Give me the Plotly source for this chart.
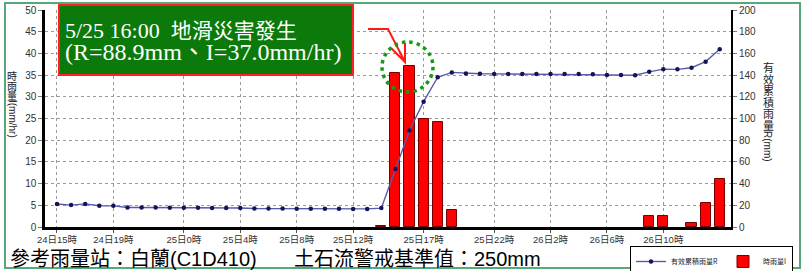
import plotly.graph_objects as go

# ---------------- data ----------------
hours = list(range(48))  # 24日15時 ... 26日14時 (hourly)
tick_idx = [0, 4, 9, 13, 17, 21, 26, 31, 35, 39, 43]
tick_text = ["24日15時", "24日19時", "25日0時", "25日4時", "25日8時", "25日12時",
             "25日17時", "25日22時", "26日2時", "26日6時", "26日10時"]

rain_I = [0, 0, 0, 0, 0, 0, 0, 0, 0, 0, 0, 0, 0, 0, 0, 0, 0, 0, 0, 0, 0, 0, 0,
          0.3, 35.5, 37.0, 25.0, 24.3, 4.0,
          0, 0, 0, 0, 0, 0, 0, 0, 0, 0, 0, 0, 0,
          2.5, 2.5, 0, 1.0, 5.6, 11.0]

cum_R = [21.2, 20.2, 21.3, 19.6, 19.5, 18.0, 18.0, 18.0, 17.8, 17.8, 17.7, 17.6,
         17.6, 17.5, 17.1, 17.0, 17.0, 16.9, 16.9, 16.8, 16.8, 16.7, 16.7, 17.4,
         53.5, 88.9, 115.5, 138.0, 142.5, 141.5, 141.2, 141.1, 141.0, 141.0, 141.0,
         141.0, 141.0, 140.9, 140.8, 140.2, 140.0, 139.9, 143.0, 145.5, 145.3,
         146.8, 152.4, 163.8]

name_R = "有效累積雨量R"
name_I = "時雨量I"
y1_ticks = [0, 5, 10, 15, 20, 25, 30, 35, 40, 45, 50]
y2_ticks = [0, 20, 40, 60, 80, 100, 120, 140, 160, 180, 200]

# ---------------- layout geometry (pixels) ----------------
W, H = 809, 271
L, R, T, B = 45, 731, 10, 227
PW, PH = R - L, B - T


def px(x):
    return (x - L) / PW


def py(y):
    return (B - y) / PH


CJK = "Noto Sans CJK TC"
SANS = "Liberation Sans, Arial, " + CJK
SERIF = "Liberation Serif, Times New Roman, " + CJK

fig = go.Figure()

fig.add_trace(go.Bar(
    x=hours, y=[v if v > 0 else None for v in rain_I], name=name_I, yaxis="y", width=0.72,
    marker=dict(color="#ff0000", line=dict(color="#7a0000", width=1)),
    legendrank=2,
))
fig.add_trace(go.Scatter(
    x=hours, y=cum_R, name=name_R, yaxis="y2", mode="lines+markers",
    line=dict(color="#5a5aa8", width=1.4),
    marker=dict(color="#14145a", size=4.5),
    legendrank=1,
))

grid_c = "#9a9a9a"
fig.update_layout(
    width=W, height=H,
    margin=dict(l=L, r=W - R, t=T, b=H - B, autoexpand=False),
    paper_bgcolor="white", plot_bgcolor="white",
    bargap=0, showlegend=True,
    xaxis=dict(
        range=[-0.85, 47.8], tickmode="array", tickvals=tick_idx, ticktext=tick_text,
        showgrid=True, gridcolor=grid_c, griddash="3px,3px", gridwidth=1,
        showline=True, linecolor="black", linewidth=2.5,
        ticks="outside", ticklen=3, tickcolor="#555", ticklabelstandoff=-1,
        tickfont=dict(family=SANS, size=9.5, color="#333"), zeroline=False,
    ),
    yaxis=dict(
        range=[0, 50], tickmode="array", tickvals=y1_ticks,
        showgrid=True, gridcolor=grid_c, griddash="3px,3px", gridwidth=1,
        showline=True, linecolor="black", linewidth=2.5,
        ticks="outside", ticklen=4, tickcolor="#777",
        tickfont=dict(family=SANS, size=10, color="#333"), zeroline=False,
    ),
    yaxis2=dict(
        range=[0, 200], tickmode="array", tickvals=y2_ticks, overlaying="y", side="right",
        showgrid=False, showline=True, linecolor="black", linewidth=2,
        ticks="outside", ticklen=4, tickcolor="#777",
        tickfont=dict(family=SANS, size=10, color="#333"), zeroline=False,
    ),
    legend=dict(
        orientation="h", x=px(630), y=py(246), xanchor="left", yanchor="top",
        bgcolor="white", bordercolor="black", borderwidth=1,
        font=dict(family=CJK, size=7, color="#222"), itemwidth=30,
        tracegroupgap=0, itemclick=False,
    ),
)

shapes = []
# outer green frame
shapes.append(dict(type="rect", xref="paper", yref="paper",
                   x0=px(5), x1=px(800), y0=py(3), y1=py(268),
                   line=dict(color="#55a878", width=2), fillcolor="rgba(0,0,0,0)", layer="above"))
# title box
shapes.append(dict(type="rect", xref="paper", yref="paper",
                   x0=px(59), x1=px(353), y0=py(5), y1=py(75),
                   line=dict(color="#ff2020", width=2), fillcolor="#0b7a0b", layer="above"))
# red arrow
pts = [(368, 29), (388, 29), (405, 62)]
path = "M" + " L".join(f"{px(a):.5f},{py(b):.5f}" for a, b in pts)
path += f" M{px(391):.5f},{py(48):.5f} L{px(405):.5f},{py(62):.5f} L{px(405):.5f},{py(43):.5f}"
shapes.append(dict(type="path", xref="paper", yref="paper", path=path,
                   line=dict(color="#ff1a1a", width=2), layer="above"))
# dotted green circle
shapes.append(dict(type="circle", xref="paper", yref="paper",
                   x0=px(382), x1=px(433), y0=py(42), y1=py(92),
                   line=dict(color="#169a16", width=3.5, dash="3.5px,4px"), layer="above"))
fig.update_layout(shapes=shapes)

ann = []
ann.append(dict(xref="paper", yref="paper", x=px(63), y=py(30), xanchor="left", yanchor="middle",
                text="5/25 16:00&nbsp;&nbsp;<span style='font-size:21px'>地滑災害發生</span>",
                showarrow=False, font=dict(family=SERIF, size=22, color="white")))
ann.append(dict(xref="paper", yref="paper", x=px(63), y=py(52), xanchor="left", yanchor="middle",
                text="(R=88.9mm、I=37.0mm/hr)", showarrow=False,
                font=dict(family=SERIF, size=24, color="white")))
# bottom info texts
ann.append(dict(xref="paper", yref="paper", x=px(8), y=py(257), xanchor="left", yanchor="middle",
                text="參考雨量站：白蘭<span style='font-family:Liberation Sans'>(C1D410)</span>",
                showarrow=False, font=dict(family=CJK, size=20, color="black")))
ann.append(dict(xref="paper", yref="paper", x=px(292), y=py(257), xanchor="left", yanchor="middle",
                text="土石流警戒基準值：<span style='font-family:Liberation Sans'>250mm</span>",
                showarrow=False, font=dict(family=CJK, size=20, color="black")))
# left axis title (stacked)
for i, ch in enumerate("時雨量"):
    ann.append(dict(xref="paper", yref="paper", x=px(12), y=py(75 + 10.5 * i),
                    xanchor="center", yanchor="middle", text=ch, showarrow=False,
                    font=dict(family=CJK, size=10, color="#222")))
ann.append(dict(xref="paper", yref="paper", x=px(12), y=py(119), xanchor="center", yanchor="middle",
                text="I(mm/hr)", textangle=90, showarrow=False,
                font=dict(family=SANS, size=10, color="#222")))
# right axis title (stacked)
for i, ch in enumerate("有效累積雨量"):
    ann.append(dict(xref="paper", yref="paper", x=px(768), y=py(67 + 11.5 * i),
                    xanchor="center", yanchor="middle", text=ch, showarrow=False,
                    font=dict(family=CJK, size=11, color="#222")))
ann.append(dict(xref="paper", yref="paper", x=px(768), y=py(146), xanchor="center", yanchor="middle",
                text="R(mm)", textangle=90, showarrow=False,
                font=dict(family=SANS, size=10, color="#222")))
fig.update_layout(annotations=ann)

fig.write_html("out.html", config={"displayModeBar": False},
               post_script="document.body.style.margin='0';document.body.style.overflow='hidden';")
